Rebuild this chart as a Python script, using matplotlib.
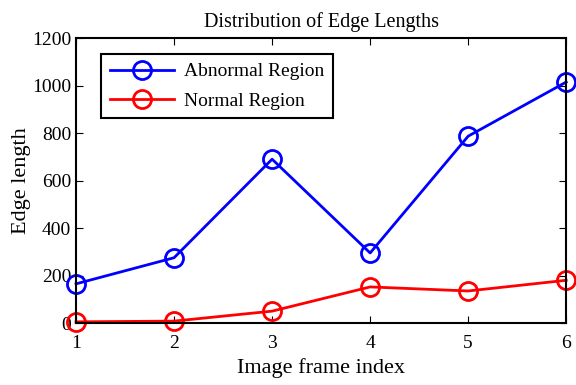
import matplotlib
matplotlib.use("Agg")
import matplotlib.pyplot as plt

frames = [1, 2, 3, 4, 5, 6]
abnormal = [165, 275, 690, 295, 787, 1015]
normal = [5, 8, 50, 152, 135, 180]

plt.rcParams['font.family'] = ['Liberation Serif', 'DejaVu Serif']

fig = plt.figure(figsize=(5.76, 3.85), dpi=100)
ax = fig.add_axes([0.132, 0.161, 0.851, 0.74])

ax.plot(frames, abnormal, color='blue', lw=2, marker='o', ms=13,
        mfc='none', mew=2, label='Abnormal Region', clip_on=False)
ax.plot(frames, normal, color='red', lw=2, marker='o', ms=13,
        mfc='none', mew=2, label='Normal Region', clip_on=False)

ax.set_xlim(1, 6)
ax.set_ylim(0, 1200)
ax.set_xticks(frames)
ax.set_yticks(range(0, 1201, 200))
ax.tick_params(direction='in', top=True, right=True, labelsize=14, length=5)
ax.tick_params(axis='x', pad=8.5)
for s in ax.spines.values():
    s.set_linewidth(1.5)

ax.set_xlabel('Image frame index', fontsize=16, labelpad=4.5)
ax.set_ylabel('Edge length', fontsize=16, labelpad=1)
ax.set_title('Distribution of Edge Lengths', fontsize=14.5, pad=8)

leg = ax.legend(loc='upper left', bbox_to_anchor=(0.051, 0.944), borderaxespad=0,
                fontsize=14, fancybox=False, edgecolor='black', framealpha=1,
                handlelength=3.3, handletextpad=0.5, borderpad=0.45,
                labelspacing=0.6)
leg.get_frame().set_linewidth(1.5)

fig.savefig('out.png', dpi=100)
